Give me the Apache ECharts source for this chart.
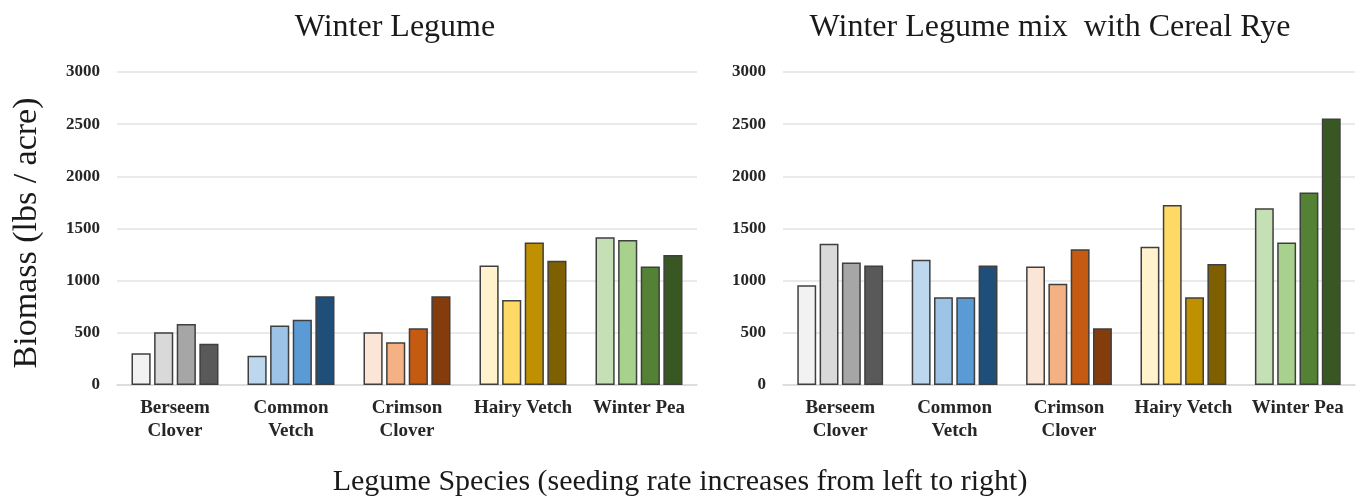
<!DOCTYPE html>
<html>
<head>
<meta charset="utf-8">
<script src="https://cdn.jsdelivr.net/npm/echarts@6/dist/echarts.min.js"></script>
<style>
  html, body { margin: 0; padding: 0; background: #fff; }
  #chart { width: 1359px; height: 500px; }
</style>
</head>
<body>
<div id="chart"></div>
<script>
// Legume species on the category axis
const categories = ['Berseem\nClover', 'Common\nVetch', 'Crimson\nClover', 'Hairy Vetch', 'Winter Pea'];

// Biomass (lbs/acre), legume alone, seeding rates 1 (lowest) to 4 (highest)
const legumeRate1 = [305, 280, 505, 1145, 1415];
const legumeRate2 = [505, 570, 410, 815, 1390];
const legumeRate3 = [585, 625, 545, 1365, 1135];
const legumeRate4 = [395, 850, 850, 1190, 1245];

// Biomass (lbs/acre), legume mixed with cereal rye, seeding rates 1 to 4
const mixRate1 = [955, 1200, 1135, 1325, 1695];
const mixRate2 = [1355, 840, 970, 1725, 1365];
const mixRate3 = [1175, 840, 1300, 840, 1845];
const mixRate4 = [1145, 1145, 545, 1160, 2555];

// Y axis ticks
const yTicks = [0, 500, 1000, 1500, 2000, 2500, 3000];

// Shade ramp for each species, light (low rate) to dark (high rate)
const berseemShades = ['#f2f2f2', '#d9d9d9', '#a6a6a6', '#595959'];
const vetchShades = ['#bdd7ee', '#9dc3e6', '#5b9bd5', '#1f4e79'];
const crimsonShades = ['#fbe5d6', '#f4b183', '#c55a11', '#843c0c'];
const hairyShades = ['#fff2cc', '#ffd966', '#bf9000', '#7f6000'];
const peaShades = ['#c5e0b4', '#a9d18e', '#548235', '#385723'];
const speciesShades = [berseemShades, vetchShades, crimsonShades, hairyShades, peaShades];

const serif = '"Liberation Serif", "Times New Roman", serif';

function coloredData(values, rateIndex) {
  return values.map((v, i) => ({
    value: v,
    itemStyle: { color: speciesShades[i][rateIndex] }
  }));
}

function barSeries(rates, axisIndex) {
  return rates.map((values, r) => ({
    type: 'bar',
    xAxisIndex: axisIndex,
    yAxisIndex: axisIndex,
    data: coloredData(values, r),
    barGap: '18%',
    barCategoryGap: '25%',
    itemStyle: { borderColor: '#3f3f3f', borderWidth: 1.5 },
    emphasis: { disabled: true }
  }));
}

function catAxis(gridIndex) {
  return {
    type: 'category',
    gridIndex: gridIndex,
    data: categories,
    axisTick: { show: false },
    axisLine: { lineStyle: { color: '#d9d9d9', width: 1.5 } },
    axisLabel: {
      interval: 0,
      margin: 12,
      fontFamily: serif,
      fontWeight: 'bold',
      fontSize: 19,
      lineHeight: 23,
      color: '#262626'
    }
  };
}

function valAxis(gridIndex) {
  return {
    type: 'value',
    gridIndex: gridIndex,
    min: yTicks[0],
    max: yTicks[yTicks.length - 1],
    interval: 500,
    axisLine: { show: false },
    axisTick: { show: false },
    splitLine: { lineStyle: { color: '#e3e3e3', width: 1.5 } },
    axisLabel: {
      margin: 17,
      fontFamily: serif,
      fontWeight: 'bold',
      fontSize: 17,
      color: '#262626',
      formatter: (v) => String(v)
    }
  };
}

const chart = echarts.init(document.getElementById('chart'), null, { renderer: 'canvas' });

chart.setOption({
  backgroundColor: '#ffffff',
  animation: false,
  grid: [
    { left: 117, right: 662, top: 72, bottom: 115 },
    { left: 783, right: 4, top: 72, bottom: 115 }
  ],
  xAxis: [catAxis(0), catAxis(1)],
  yAxis: [valAxis(0), valAxis(1)],
  series: [
    ...barSeries([legumeRate1, legumeRate2, legumeRate3, legumeRate4], 0),
    ...barSeries([mixRate1, mixRate2, mixRate3, mixRate4], 1)
  ],
  graphic: [
    {
      type: 'text', x: 395, y: 28,
      style: { text: 'Winter Legume', font: '32px ' + serif, fill: '#1a1a1a', textAlign: 'center', textVerticalAlign: 'middle' }
    },
    {
      type: 'text', x: 1050, y: 28,
      style: { text: 'Winter Legume mix  with Cereal Rye', font: '32px ' + serif, fill: '#1a1a1a', textAlign: 'center', textVerticalAlign: 'middle' }
    },
    {
      type: 'text', x: 27, y: 233, rotation: Math.PI / 2,
      style: { text: 'Biomass (lbs / acre)', font: '34px ' + serif, fill: '#1a1a1a', textAlign: 'center', textVerticalAlign: 'middle' }
    },
    {
      type: 'text', x: 680, y: 482,
      style: { text: 'Legume Species (seeding rate increases from left to right)', font: '30px ' + serif, fill: '#1a1a1a', textAlign: 'center', textVerticalAlign: 'middle' }
    }
  ]
});
</script>
</body>
</html>
